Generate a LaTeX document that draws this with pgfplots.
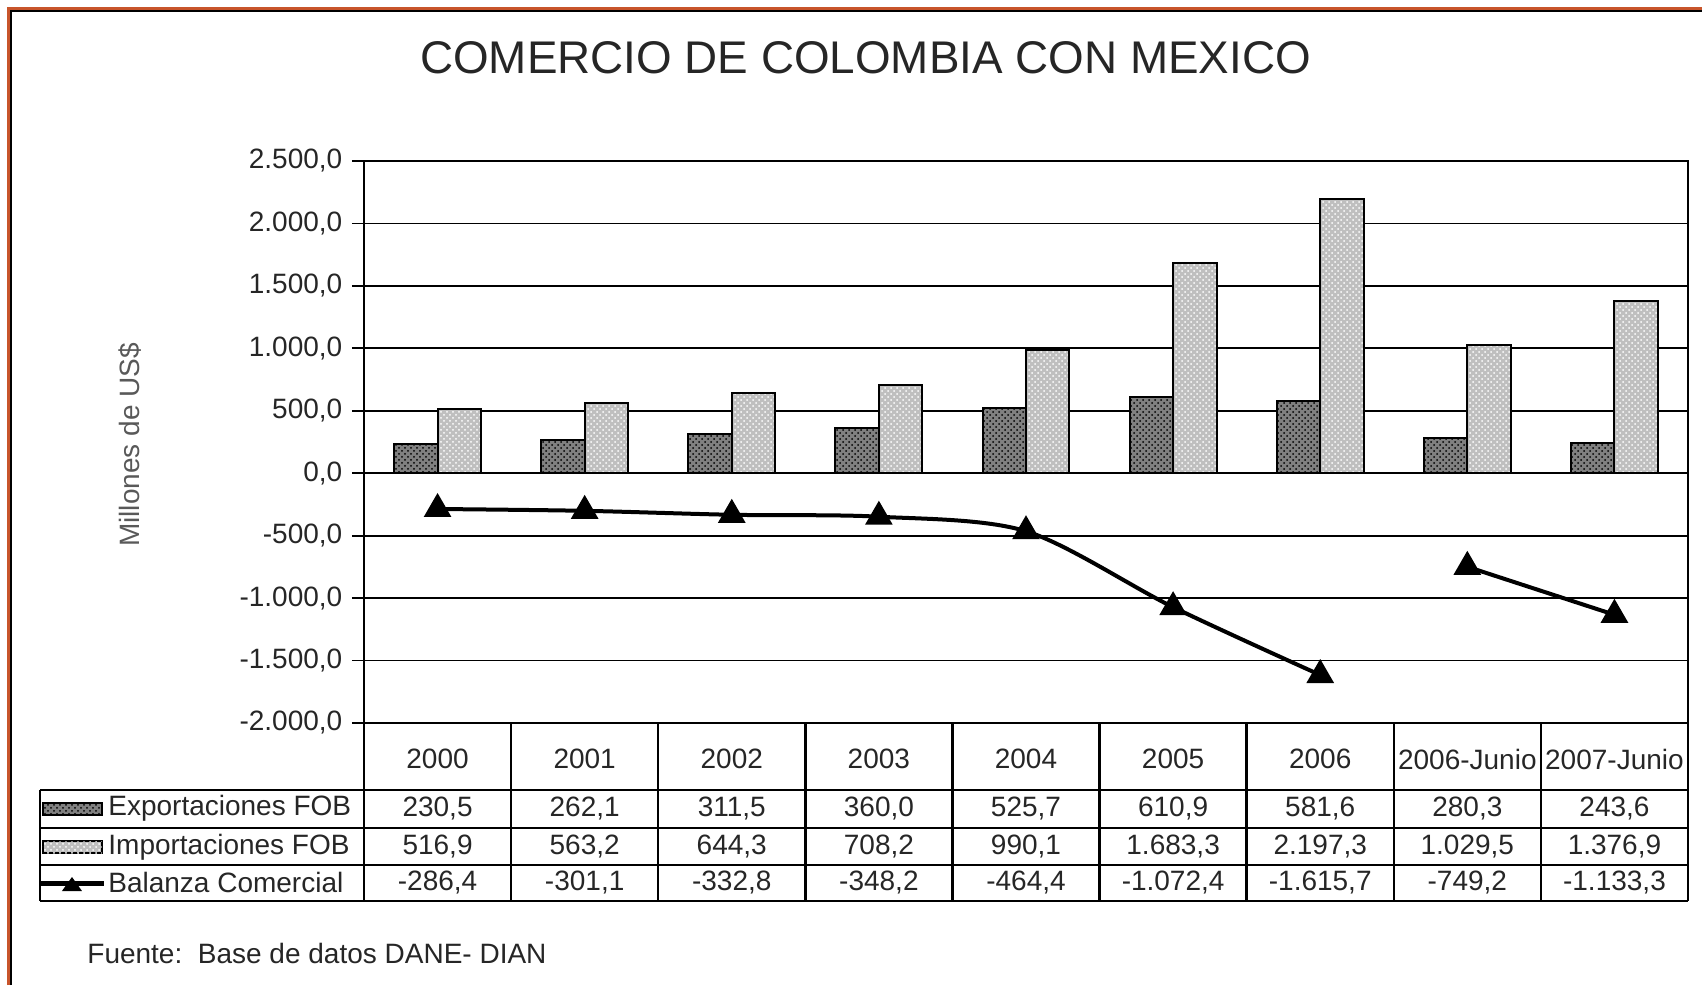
\documentclass[border=0pt]{standalone}
\usepackage{pgfplots}
\pgfplotsset{compat=1.18}
\usetikzlibrary{patterns}
\usepackage{fontspec}
\setmainfont{Liberation Sans}

\definecolor{frameorange}{HTML}{C8552B}
\definecolor{txt}{gray}{0.15}

% column width of the data table = axis width / 9
\newcommand{\cw}{73.556}

\begin{document}
\fontsize{14}{16}\selectfont
\begin{tikzpicture}
\path[use as bounding box] (-182pt,-131pt) rectangle (669pt,361.5pt);

% outer frame (only top and left edges show)
\draw[frameorange, line width=1.2pt] (-177.8pt,-131pt) -- (-177.8pt,357.2pt) -- (669pt,357.2pt);
\draw[black, line width=1pt] (-176.7pt,-131pt) -- (-176.7pt,356.1pt) -- (669pt,356.1pt);

\begin{axis}[
  at={(0pt,0pt)}, anchor=south west,
  scale only axis, width=662pt, height=281pt,
  xmin=-0.5, xmax=8.5, ymin=-2000, ymax=2500,
  ytick={-2000,-1500,...,2500},
  xtick={0,...,8},
  xticklabels={2000,2001,2002,2003,2004,2005,2006,2006-Junio,2007-Junio},
  x tick style={draw=none},
  xticklabel style={anchor=center, yshift=-12pt, text=txt},
  ymajorgrids, grid style={black, line width=0.9pt},
  axis line style={black, line width=1pt},
  ytick pos=left, tick align=outside, major tick length=6pt,
  y tick style={black, line width=0.9pt},
  yticklabel style={text=txt,
    /pgf/number format/fixed, /pgf/number format/fixed zerofill,
    /pgf/number format/precision=1, /pgf/number format/use comma,
    /pgf/number format/1000 sep={.},
    /pgf/number format/assume math mode=true},
  clip=false,
]
% Exportaciones FOB
\addplot[ybar, bar width=21.7pt, bar shift=-10.85pt, draw=black, line width=1pt,
  fill=black!50, postaction={pattern=crosshatch dots, pattern color=black}]
  coordinates {(0,230.5) (1,262.1) (2,311.5) (3,360.0) (4,525.7) (5,610.9) (6,581.6) (7,280.3) (8,243.6)};
% Importaciones FOB
\addplot[ybar, bar width=21.7pt, bar shift=10.85pt, draw=black, line width=1pt,
  fill=black!25, postaction={pattern=crosshatch dots, pattern color=white}]
  coordinates {(0,516.9) (1,563.2) (2,644.3) (3,708.2) (4,990.1) (5,1683.3) (6,2197.3) (7,1029.5) (8,1376.9)};
% Balanza Comercial (two separate runs)
\addplot[smooth, black, line width=2pt, mark=triangle*, mark size=6pt, mark options={solid}]
  coordinates {(0,-286.4) (1,-301.1) (2,-332.8) (3,-348.2) (4,-464.4) (5,-1072.4) (6,-1615.7)};
\addplot[smooth, black, line width=2pt, mark=triangle*, mark size=6pt, mark options={solid}]
  coordinates {(7,-749.2) (8,-1133.3)};
\end{axis}

% title and axis label
\node[font=\fontsize{22.9}{26}\selectfont, text=txt] at (250.75pt,332.75pt) {COMERCIO DE COLOMBIA CON MEXICO};
\node[rotate=90, text=black!65] at (-117pt,139pt) {Millones de US\$};

% data table grid
\foreach \k in {0,...,9}{
  \draw[black, line width=1.2pt] ({\k*\cw pt},0pt) -- ({\k*\cw pt},-89pt);
}
\draw[black, line width=1.2pt] (-162pt,-33.5pt) -- (662pt,-33.5pt);
\draw[black, line width=1.2pt] (-162pt,-52.5pt) -- (662pt,-52.5pt);
\draw[black, line width=1.2pt] (-162pt,-71pt) -- (662pt,-71pt);
\draw[black, line width=1.2pt] (-162pt,-89pt) -- (662pt,-89pt);
\draw[black, line width=1.2pt] (-162pt,-33.5pt) -- (-162pt,-89pt);

% row keys and names
\draw[black, line width=0.8pt, fill=black!50, postaction={pattern=crosshatch dots, pattern color=black}]
  (-160.5pt,-46pt) rectangle (-131pt,-40pt);
\draw[black, line width=0.8pt, fill=black!25, postaction={pattern=crosshatch dots, pattern color=white}]
  (-160.5pt,-65pt) rectangle (-131pt,-59pt);
\draw[black, line width=2.5pt] (-162pt,-80pt) -- (-130pt,-80pt);
\fill[black] (-146pt,-77pt) -- (-151pt,-84pt) -- (-141pt,-84pt) -- cycle;
\node[anchor=west, inner sep=0pt, text=txt] at (-128pt,-42.8pt) {Exportaciones FOB};
\node[anchor=west, inner sep=0pt, text=txt] at (-128pt,-61.9pt) {Importaciones FOB};
\node[anchor=west, inner sep=0pt, text=txt] at (-128pt,-79.8pt) {Balanza Comercial};

% table values
\foreach \v [count=\i from 0] in {{230,5},{262,1},{311,5},{360,0},{525,7},{610,9},{581,6},{280,3},{243,6}}{
  \node[text=txt] at ({(\i+0.5)*\cw pt},-42.8pt) {\v};
}
\foreach \v [count=\i from 0] in {{516,9},{563,2},{644,3},{708,2},{990,1},{1.683,3},{2.197,3},{1.029,5},{1.376,9}}{
  \node[text=txt] at ({(\i+0.5)*\cw pt},-61.9pt) {\v};
}
\foreach \v [count=\i from 0] in {{-286,4},{-301,1},{-332,8},{-348,2},{-464,4},{-1.072,4},{-1.615,7},{-749,2},{-1.133,3}}{
  \node[text=txt] at ({(\i+0.5)*\cw pt},-79.8pt) {\v};
}

% source note
\node[anchor=west, inner sep=0pt, text=txt] at (-138.5pt,-115pt) {Fuente:\ \ Base de datos DANE- DIAN};
\end{tikzpicture}
\end{document}
